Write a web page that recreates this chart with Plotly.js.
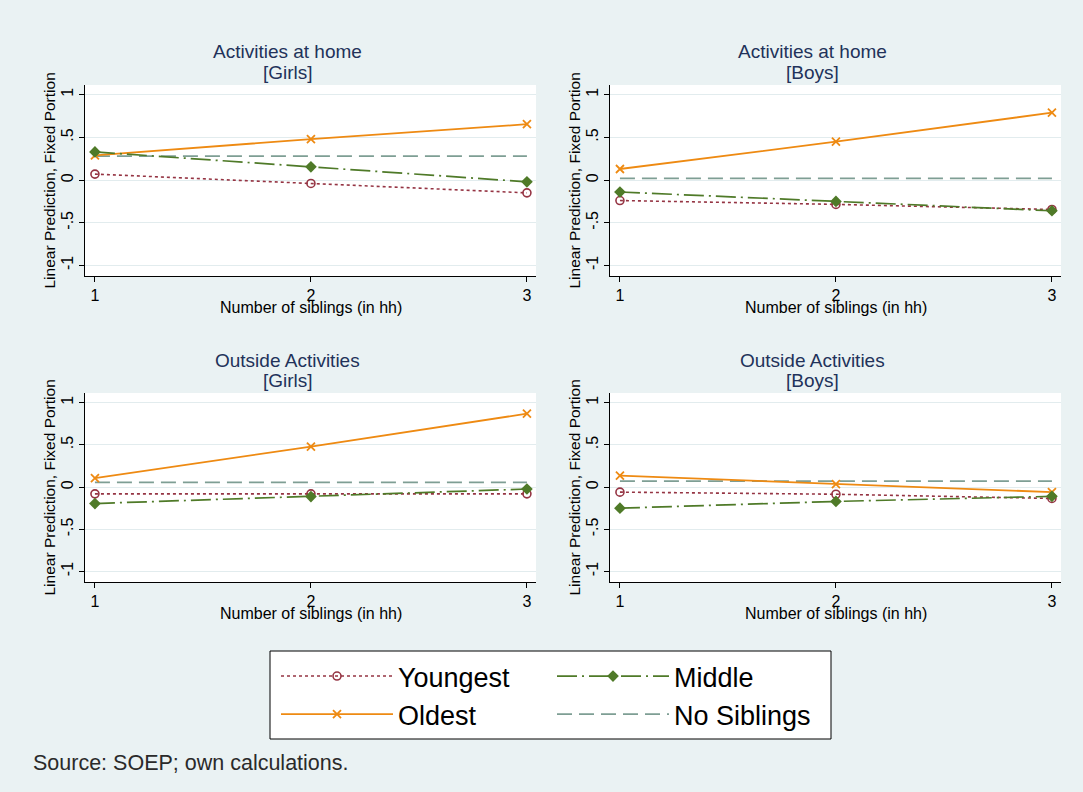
<!DOCTYPE html>
<html><head><meta charset="utf-8">
<script src="https://cdn.plot.ly/plotly-3.0.1.min.js"></script>
<style>html,body{margin:0;padding:0;background:#EAF2F3;}#chart{width:1083px;height:792px;}</style>
</head><body><div id="chart"></div>
<script>
// ---------------- data ----------------
const siblings = [1, 2, 3];
const xTickText = ['1', '2', '3'];
const yTickVals = [-1, -0.5, 0, 0.5, 1];
const yTickText = ['-1', '-.5', '0', '.5', '1'];
const panelTitles = ['Activities at home', 'Activities at home', 'Outside Activities', 'Outside Activities'];
const panelGroups = ['[Girls]', '[Boys]', '[Girls]', '[Boys]'];
const seriesNames = ['Youngest', 'Middle', 'Oldest', 'No Siblings'];
const xTitle = 'Number of siblings (in hh)';
const yTitle = 'Linear Prediction, Fixed Portion';
const sourceNote = 'Source: SOEP; own calculations.';

// Activities at home, girls
const homeGirlsYoungest = [0.07, -0.04, -0.15];
const homeGirlsMiddle   = [0.33, 0.155, -0.02];
const homeGirlsOldest   = [0.29, 0.48, 0.655];
const homeGirlsNoSib    = [0.28, 0.28, 0.28];
// Activities at home, boys
const homeBoysYoungest = [-0.24, -0.285, -0.345];
const homeBoysMiddle   = [-0.14, -0.25, -0.36];
const homeBoysOldest   = [0.13, 0.45, 0.79];
const homeBoysNoSib    = [0.02, 0.02, 0.02];
// Outside activities, girls
const outGirlsYoungest = [-0.08, -0.08, -0.08];
const outGirlsMiddle   = [-0.195, -0.113, -0.023];
const outGirlsOldest   = [0.105, 0.48, 0.87];
const outGirlsNoSib    = [0.055, 0.055, 0.055];
// Outside activities, boys
const outBoysYoungest = [-0.06, -0.085, -0.135];
const outBoysMiddle   = [-0.25, -0.17, -0.11];
const outBoysOldest   = [0.135, 0.035, -0.06];
const outBoysNoSib    = [0.07, 0.07, 0.07];

// ---------------- layout helpers ----------------
const W = 1083, H = 792;
const FONT = 'Liberation Sans, Arial, sans-serif';
const panelData = [
  [homeGirlsYoungest, homeGirlsMiddle, homeGirlsOldest, homeGirlsNoSib],
  [homeBoysYoungest, homeBoysMiddle, homeBoysOldest, homeBoysNoSib],
  [outGirlsYoungest, outGirlsMiddle, outGirlsOldest, outGirlsNoSib],
  [outBoysYoungest, outBoysMiddle, outBoysOldest, outBoysNoSib]
];
// pixel boxes [left, right, top, bottom]
const boxes = [[85, 536, 85, 276], [610, 1061, 85, 276], [85, 536, 393, 582], [610, 1061, 393, 582]];

const styles = {
  'Youngest':    {color: '#953443', dash: 'dot',     width: 1.6, mode: 'lines+markers', marker: {symbol: 'circle-open', size: 8, color: '#953443', line: {width: 1.6, color: '#953443'}}, legend: 'legend', rank: 1},
  'Middle':      {color: '#4F7A28', dash: '20px,5px,2px,5px', width: 1.7, mode: 'lines+markers', marker: {symbol: 'diamond', size: 9, color: '#4F7A28'}, legend: 'legend2', rank: 1},
  'Oldest':      {color: '#EE8A12', dash: 'solid',   width: 1.8, mode: 'lines+markers', marker: {symbol: 'x-thin-open', size: 8, color: '#EE8A12', line: {width: 1.8, color: '#EE8A12'}}, legend: 'legend', rank: 2},
  'No Siblings': {color: '#7E9E94', dash: '15px,7px', width: 1.8, mode: 'lines', marker: {}, legend: 'legend2', rank: 2}
};
const drawOrder = [3, 0, 2, 1];

const legendFont = {family: FONT, size: 27, color: '#000'};
const traces = [];
const layout = {
  width: W, height: H,
  margin: {l: 0, r: 0, t: 0, b: 0},
  paper_bgcolor: '#EAF2F3',
  plot_bgcolor: '#FFFFFF',
  font: {family: FONT, color: '#000'},
  annotations: [],
  shapes: [],
  legend: {x: 276 / W, y: 1 - 652 / H, xanchor: 'left', yanchor: 'top', orientation: 'v', bgcolor: 'rgba(0,0,0,0)', borderwidth: 0, itemwidth: 112, font: legendFont, tracegroupgap: 0},
  legend2: {x: 552 / W, y: 1 - 652 / H, xanchor: 'left', yanchor: 'top', orientation: 'v', bgcolor: 'rgba(0,0,0,0)', borderwidth: 0, itemwidth: 112, font: legendFont, tracegroupgap: 0}
};

boxes.forEach((b, p) => {
  const n = p === 0 ? '' : String(p + 1);
  layout['xaxis' + n] = {
    domain: [b[0] / W, b[1] / W], anchor: 'y' + n, range: [0.954, 3.042],
    tickvals: siblings, ticktext: xTickText, ticks: 'outside', ticklen: 5, tickcolor: '#000',
    showline: true, linecolor: '#000', linewidth: 1, showgrid: false, zeroline: false,
    tickfont: {family: FONT, size: 16, color: '#000'}, fixedrange: true
  };
  layout['yaxis' + n] = {
    domain: [1 - b[3] / H, 1 - b[2] / H], anchor: 'x' + n, range: [-1.125, 1.115],
    tickvals: yTickVals, ticktext: yTickText, tickangle: -90, ticks: 'outside', ticklen: 5, tickcolor: '#000',
    showline: true, linecolor: '#000', linewidth: 1, showgrid: true, gridcolor: '#E2ECEE', gridwidth: 1, zeroline: false,
    tickfont: {family: FONT, size: 16, color: '#000'}, fixedrange: true
  };
  drawOrder.forEach(si => {
    const name = seriesNames[si];
    const s = styles[name];
    traces.push({
      type: 'scatter', mode: s.mode, x: siblings, y: panelData[p][si],
      xaxis: 'x' + n, yaxis: 'y' + n, name: name, legendgroup: name,
      legend: s.legend, legendrank: s.rank, showlegend: p === 0,
      line: {color: s.color, dash: s.dash, width: s.width},
      marker: s.marker, cliponaxis: false, hoverinfo: 'skip'
    });
  });
  const cx = (b[0] + b[1]) / 2 / W;
  const tcx = ((b[0] + b[1]) / 2 - 23) / W;
  const titleY1 = b[2] - 33, titleY2 = b[2] - 13;
  layout.annotations.push(
    {text: panelTitles[p], xref: 'paper', yref: 'paper', x: tcx, y: 1 - titleY1 / H, xanchor: 'center', yanchor: 'middle', showarrow: false, font: {family: FONT, size: 19, color: '#22325A'}},
    {text: panelGroups[p], xref: 'paper', yref: 'paper', x: tcx, y: 1 - titleY2 / H, xanchor: 'center', yanchor: 'middle', showarrow: false, font: {family: FONT, size: 19, color: '#22325A'}},
    {text: xTitle, xref: 'paper', yref: 'paper', x: cx, y: 1 - (b[3] + 31) / H, xanchor: 'center', yanchor: 'middle', showarrow: false, font: {family: FONT, size: 16, color: '#000'}},
    {text: yTitle, xref: 'paper', yref: 'paper', x: (b[0] - 36) / W, y: 1 - ((b[2] + b[3]) / 2) / H, xanchor: 'center', yanchor: 'middle', textangle: -90, showarrow: false, font: {family: FONT, size: 15.5, color: '#000'}}
  );
});

layout.annotations.push({text: sourceNote, xref: 'paper', yref: 'paper', x: 31 / W, y: 1 - 763 / H, xanchor: 'left', yanchor: 'middle', showarrow: false, font: {family: FONT, size: 21.5, color: '#2A2A2A'}});
layout.shapes.push({type: 'rect', xref: 'paper', yref: 'paper', x0: 270 / W, x1: 831 / W, y0: 1 - 739 / H, y1: 1 - 651 / H, fillcolor: '#FFFFFF', line: {color: '#000', width: 1}, layer: 'below'});

Plotly.newPlot('chart', traces, layout, {displayModeBar: false, staticPlot: true});
</script></body></html>
